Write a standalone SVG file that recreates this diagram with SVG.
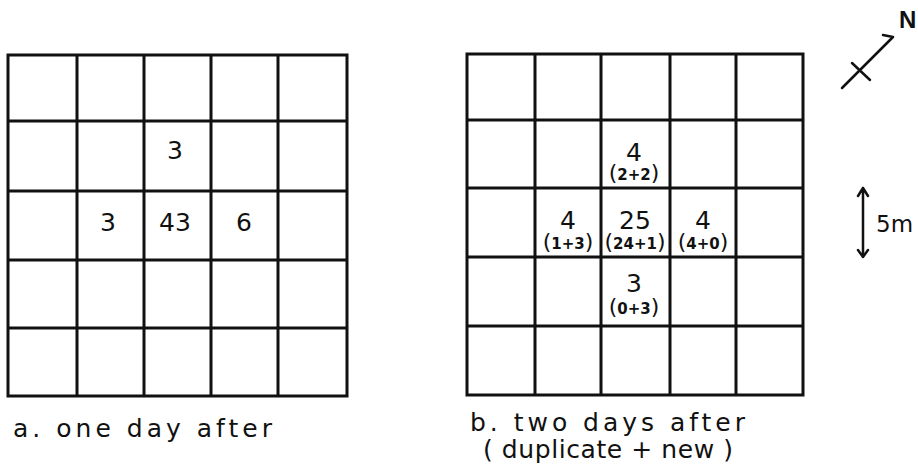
<svg xmlns="http://www.w3.org/2000/svg" width="918" height="472" viewBox="0 0 918 472">
<style>
.g{fill:none;stroke:#111;stroke-width:3}
.n{font-family:"DejaVu Sans",sans-serif;font-size:25px;fill:#111;text-anchor:middle}
.s{font-family:"DejaVu Sans",sans-serif;font-size:15px;font-weight:bold;fill:#111;text-anchor:middle}
.p{font-size:22px;font-weight:normal}
.c{font-family:"DejaVu Sans",sans-serif;font-size:25px;fill:#111}
.l{fill:none;stroke:#111;stroke-width:2.5;stroke-linecap:round;stroke-linejoin:round}
</style>
<rect width="918" height="472" fill="#fff"/>
<g id="gridA">
<path class="g" d="M8,55H347V396H8Z M77,55V396 M144,55V396 M211,55V396 M278,55V396 M8,121H347 M8,191H347 M8,260H347 M8,328H347"/>
<text class="n" x="175" y="159">3</text>
<text class="n" x="108" y="231">3</text>
<text class="n" x="175" y="231">43</text>
<text class="n" x="244" y="231">6</text>
</g>
<g id="gridB">
<path class="g" d="M467,54H803V395H467Z M535,54V395 M601,54V395 M670,54V395 M736,54V395 M467,120H803 M467,188H803 M467,257H803 M467,326H803"/>
<text class="n" x="634" y="161">4</text>
<text class="s" x="634" y="180"><tspan class="p">(</tspan>2+2<tspan class="p">)</tspan></text>
<text class="n" x="568" y="229">4</text>
<text class="s" x="568" y="249"><tspan class="p">(</tspan>1+3<tspan class="p">)</tspan></text>
<text class="n" x="635" y="229">25</text>
<text class="s" x="635" y="249"><tspan class="p">(</tspan>24+1<tspan class="p">)</tspan></text>
<text class="n" x="703" y="229">4</text>
<text class="s" x="703" y="249"><tspan class="p">(</tspan>4+0<tspan class="p">)</tspan></text>
<text class="n" x="634" y="292">3</text>
<text class="s" x="634" y="314"><tspan class="p">(</tspan>0+3<tspan class="p">)</tspan></text>
</g>
<g id="north">
<path class="l" d="M842,88L893,37L883,35 M852,63L870,80"/>
<text x="899" y="28" style="font-family:'Liberation Sans',sans-serif;font-weight:bold;font-size:24px;fill:#111">N</text>
</g>
<g id="scale">
<path class="l" d="M863,188V257 M858,196L863,188L868,196 M858,250L863,257L868,250"/>
<text class="c" x="876" y="232" style="font-size:23px">5m</text>
</g>
<g id="captions">
<text class="c" x="13" y="437" textLength="259" lengthAdjust="spacing">a.  one day after</text>
<text class="c" x="470" y="431" textLength="275" lengthAdjust="spacing">b.  two days after</text>
<text class="c" x="483" y="458" textLength="250" lengthAdjust="spacing">( duplicate + new )</text>
</g>
</svg>
